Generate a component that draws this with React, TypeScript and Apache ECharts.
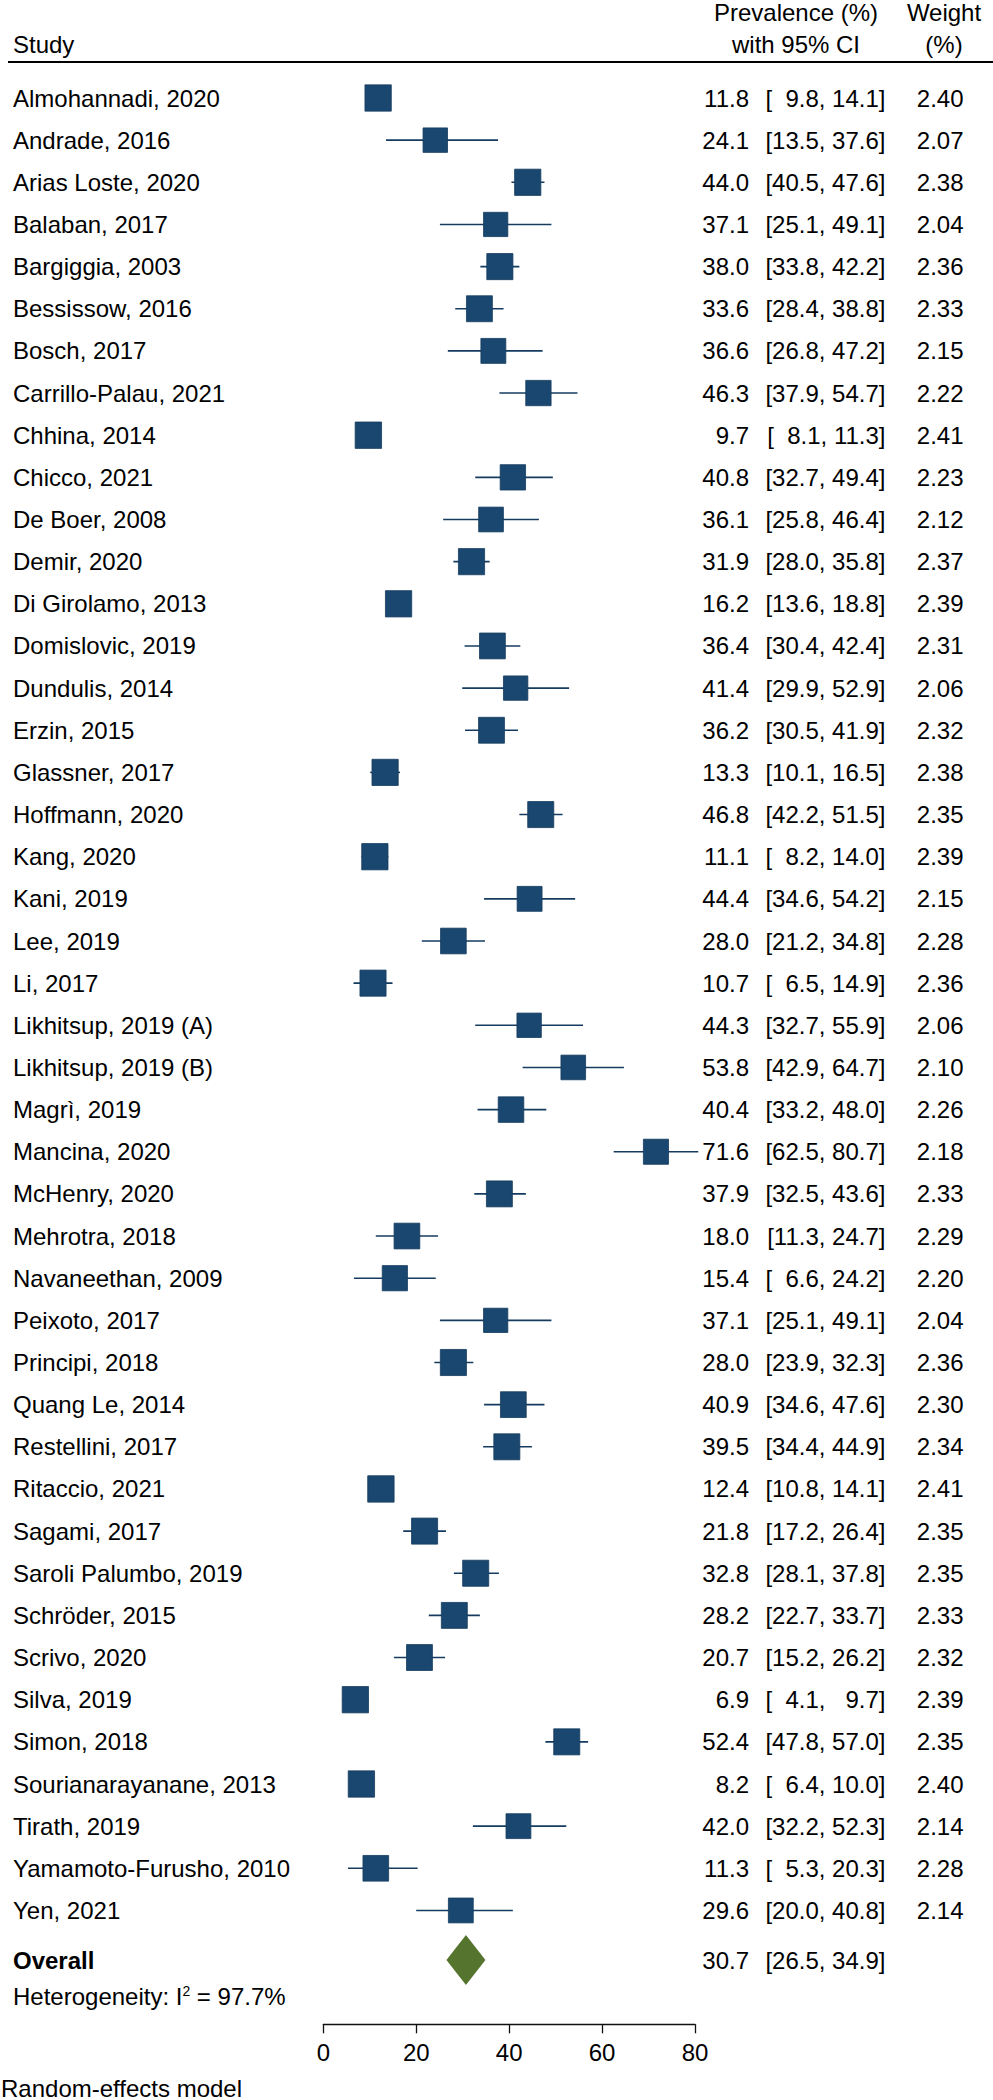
import React, { useEffect, useRef } from "react";
import * as echarts from "echarts";

// ---------- data ----------
const studies = [
  "Almohannadi, 2020", "Andrade, 2016", "Arias Loste, 2020", "Balaban, 2017",
  "Bargiggia, 2003", "Bessissow, 2016", "Bosch, 2017", "Carrillo-Palau, 2021",
  "Chhina, 2014", "Chicco, 2021", "De Boer, 2008", "Demir, 2020",
  "Di Girolamo, 2013", "Domislovic, 2019", "Dundulis, 2014", "Erzin, 2015",
  "Glassner, 2017", "Hoffmann, 2020", "Kang, 2020", "Kani, 2019",
  "Lee, 2019", "Li, 2017", "Likhitsup, 2019 (A)", "Likhitsup, 2019 (B)",
  "Magrì, 2019", "Mancina, 2020", "McHenry, 2020", "Mehrotra, 2018",
  "Navaneethan, 2009", "Peixoto, 2017", "Principi, 2018", "Quang Le, 2014",
  "Restellini, 2017", "Ritaccio, 2021", "Sagami, 2017", "Saroli Palumbo, 2019",
  "Schröder, 2015", "Scrivo, 2020", "Silva, 2019", "Simon, 2018",
  "Sourianarayanane, 2013", "Tirath, 2019", "Yamamoto-Furusho, 2010", "Yen, 2021",
];
const estimates = [
  11.8, 24.1, 44.0, 37.1, 38.0, 33.6, 36.6, 46.3, 9.7, 40.8, 36.1, 31.9,
  16.2, 36.4, 41.4, 36.2, 13.3, 46.8, 11.1, 44.4, 28.0, 10.7, 44.3, 53.8,
  40.4, 71.6, 37.9, 18.0, 15.4, 37.1, 28.0, 40.9, 39.5, 12.4, 21.8, 32.8,
  28.2, 20.7, 6.9, 52.4, 8.2, 42.0, 11.3, 29.6,
];
const lowers = [
  9.8, 13.5, 40.5, 25.1, 33.8, 28.4, 26.8, 37.9, 8.1, 32.7, 25.8, 28.0,
  13.6, 30.4, 29.9, 30.5, 10.1, 42.2, 8.2, 34.6, 21.2, 6.5, 32.7, 42.9,
  33.2, 62.5, 32.5, 11.3, 6.6, 25.1, 23.9, 34.6, 34.4, 10.8, 17.2, 28.1,
  22.7, 15.2, 4.1, 47.8, 6.4, 32.2, 5.3, 20.0,
];
const uppers = [
  14.1, 37.6, 47.6, 49.1, 42.2, 38.8, 47.2, 54.7, 11.3, 49.4, 46.4, 35.8,
  18.8, 42.4, 52.9, 41.9, 16.5, 51.5, 14.0, 54.2, 34.8, 14.9, 55.9, 64.7,
  48.0, 80.7, 43.6, 24.7, 24.2, 49.1, 32.3, 47.6, 44.9, 14.1, 26.4, 37.8,
  33.7, 26.2, 9.7, 57.0, 10.0, 52.3, 20.3, 40.8,
];
const weights = [
  2.40, 2.07, 2.38, 2.04, 2.36, 2.33, 2.15, 2.22, 2.41, 2.23, 2.12, 2.37,
  2.39, 2.31, 2.06, 2.32, 2.38, 2.35, 2.39, 2.15, 2.28, 2.36, 2.06, 2.10,
  2.26, 2.18, 2.33, 2.29, 2.20, 2.04, 2.36, 2.30, 2.34, 2.41, 2.35, 2.35,
  2.33, 2.32, 2.39, 2.35, 2.40, 2.14, 2.28, 2.14,
];
const overallLabel = "Overall";
const overallEstimate = 30.7;
const overallLower = 26.5;
const overallUpper = 34.9;
const heterogeneityI2 = "97.7%";
const xTicks = [0, 20, 40, 60, 80];

// ---------- layout / style ----------
const FONT = "'Liberation Sans', Arial, Helvetica, sans-serif";
const FS = 24;
const NAVY = "#1a476f";
const NAVY_EDGE = "#153c60";
const GREEN = "#55752f";
const ROW_H = 42.15;
const ROW0_Y = 98;
const AXIS_Y = 2024.3;
const GRID_LEFT = 323.3;
const GRID_RIGHT_X = 695;
const Y_MIN = -0.5;
const GRID_TOP = ROW0_Y + Y_MIN * ROW_H;
const Y_MAX = Y_MIN + (AXIS_Y - GRID_TOP) / ROW_H;
const OVERALL_POS = (1960 - ROW0_Y) / ROW_H;
const SQ_K = 17;

const pad = (v: number) => (v < 10 ? "\u2007" : "") + v.toFixed(1);

function rowIndex(v: number): number {
  const i = Math.round(v);
  if (i < studies.length && Math.abs(v - i) < 0.01) return i;
  return -1;
}

const studyPositions = studies.map((_, i) => i);

export default function App() {
  const ref = useRef<HTMLDivElement>(null);

  useEffect(() => {
    if (!ref.current) return;
    const chart = echarts.init(ref.current, undefined, { renderer: "svg" });

    const yBase = {
      type: "value" as const,
      inverse: true,
      min: Y_MIN,
      max: Y_MAX,
      axisLine: { show: false, onZero: false },
      axisTick: { show: false },
      splitLine: { show: false },
    };
    const labelBase = {
      fontSize: FS,
      fontFamily: FONT,
      color: "#000",
    };

    const option: any = {
      animation: false,
      backgroundColor: "#fff",
      grid: {
        left: GRID_LEFT,
        right: 993 - GRID_RIGHT_X,
        top: GRID_TOP,
        bottom: 2100 - AXIS_Y,
        containLabel: false,
      },
      xAxis: {
        type: "value",
        min: xTicks[0],
        max: xTicks[xTicks.length - 1],
        interval: xTicks[1] - xTicks[0],
        position: "bottom",
        axisLine: { show: true, onZero: false, lineStyle: { color: "#111", width: 1.3 } },
        axisTick: { show: true, length: 9, lineStyle: { color: "#111", width: 1.3 } },
        axisLabel: { ...labelBase, margin: 16 },
        splitLine: { show: false },
      },
      yAxis: [
        {
          ...yBase,
          position: "left",
          axisLabel: {
            ...labelBase,
            customValues: [...studyPositions, OVERALL_POS],
            align: "left",
            margin: GRID_LEFT - 13,
            formatter: (v: number) => {
              const i = rowIndex(v);
              return i >= 0 ? studies[i] : "{b|" + overallLabel + "}";
            },
            rich: {
              b: { fontSize: FS, fontFamily: FONT, fontWeight: "bold", color: "#000" },
            },
          },
        },
        {
          ...yBase,
          position: "right",
          axisLabel: {
            ...labelBase,
            customValues: [...studyPositions, OVERALL_POS],
            align: "right",
            margin: 749 - GRID_RIGHT_X,
            formatter: (v: number) => {
              const i = rowIndex(v);
              return (i >= 0 ? estimates[i] : overallEstimate).toFixed(1);
            },
          },
        },
        {
          ...yBase,
          position: "right",
          axisLabel: {
            ...labelBase,
            customValues: [...studyPositions, OVERALL_POS],
            align: "right",
            margin: 885.5 - GRID_RIGHT_X,
            formatter: (v: number) => {
              const i = rowIndex(v);
              const lo = i >= 0 ? lowers[i] : overallLower;
              const hi = i >= 0 ? uppers[i] : overallUpper;
              return "[" + pad(lo) + ", " + pad(hi) + "]";
            },
          },
        },
        {
          ...yBase,
          position: "right",
          axisLabel: {
            ...labelBase,
            customValues: studyPositions,
            align: "right",
            margin: 963.5 - GRID_RIGHT_X,
            formatter: (v: number) => {
              const i = rowIndex(v);
              return i >= 0 ? weights[i].toFixed(2) : "";
            },
          },
        },
      ],
      graphic: [
        {
          type: "line",
          shape: { x1: 8, y1: 62, x2: 993, y2: 62 },
          style: { stroke: "#000", lineWidth: 2 },
        },
        {
          type: "text", x: 13, y: 44,
          style: { text: "Study", fontSize: FS, fontFamily: FONT, fill: "#000", align: "left", verticalAlign: "middle" },
        },
        {
          type: "text", x: 796, y: 12,
          style: { text: "Prevalence (%)", fontSize: FS, fontFamily: FONT, fill: "#000", align: "center", verticalAlign: "middle" },
        },
        {
          type: "text", x: 796, y: 44,
          style: { text: "with 95% CI", fontSize: FS, fontFamily: FONT, fill: "#000", align: "center", verticalAlign: "middle" },
        },
        {
          type: "text", x: 944, y: 12,
          style: { text: "Weight", fontSize: FS, fontFamily: FONT, fill: "#000", align: "center", verticalAlign: "middle" },
        },
        {
          type: "text", x: 944, y: 44,
          style: { text: "(%)", fontSize: FS, fontFamily: FONT, fill: "#000", align: "center", verticalAlign: "middle" },
        },
        {
          type: "text", x: 13, y: 1996,
          style: {
            text: "Heterogeneity: I{s|2} = " + heterogeneityI2,
            fontSize: FS, fontFamily: FONT, fill: "#000", align: "left", verticalAlign: "middle",
            rich: { s: { fontSize: 14, fontFamily: FONT, fill: "#000", verticalAlign: "top" } },
          },
        },
        {
          type: "text", x: 1, y: 2088,
          style: { text: "Random-effects model", fontSize: FS, fontFamily: FONT, fill: "#000", align: "left", verticalAlign: "middle" },
        },
      ],
      series: [
        {
          type: "custom",
          name: "studies",
          xAxisIndex: 0,
          yAxisIndex: 0,
          clip: false,
          encode: { x: [0, 1, 2], y: 4 },
          data: studies.map((_, i) => [estimates[i], lowers[i], uppers[i], weights[i], i]),
          renderItem: (params: any, api: any) => {
            const y = api.value(4);
            const c = api.coord([api.value(0), y]);
            const l = api.coord([api.value(1), y]);
            const r = api.coord([api.value(2), y]);
            const s = SQ_K * Math.sqrt(api.value(3));
            return {
              type: "group",
              children: [
                {
                  type: "line",
                  shape: { x1: l[0], y1: c[1], x2: r[0], y2: c[1] },
                  style: { stroke: NAVY_EDGE, lineWidth: 1.6 },
                },
                {
                  type: "rect",
                  shape: { x: c[0] - s / 2, y: c[1] - s / 2, width: s, height: s },
                  style: { fill: NAVY, stroke: NAVY_EDGE, lineWidth: 0.8 },
                },
              ],
            };
          },
        },
        {
          type: "custom",
          name: "overall",
          xAxisIndex: 0,
          yAxisIndex: 0,
          clip: false,
          encode: { x: [0, 1, 2], y: 3 },
          data: [[overallEstimate, overallLower, overallUpper, OVERALL_POS]],
          renderItem: (params: any, api: any) => {
            const y = api.value(3);
            const c = api.coord([api.value(0), y]);
            const l = api.coord([api.value(1), y]);
            const r = api.coord([api.value(2), y]);
            const h = 25;
            return {
              type: "polygon",
              shape: {
                points: [
                  [l[0], c[1]],
                  [c[0], c[1] - h],
                  [r[0], c[1]],
                  [c[0], c[1] + h],
                ],
              },
              style: { fill: GREEN },
            };
          },
        },
      ],
    };

    chart.setOption(option);
    return () => chart.dispose();
  }, []);

  return (
    <div
      ref={ref}
      style={{ position: "absolute", left: 0, top: 0, width: 993, height: 2100, background: "#fff" }}
    />
  );
}
